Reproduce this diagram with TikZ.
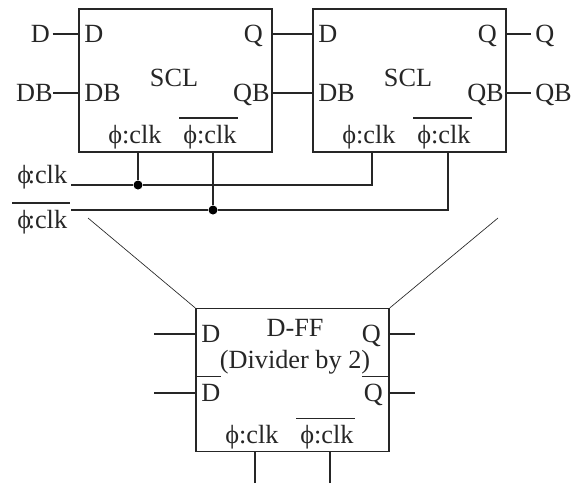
\documentclass[tikz,border=0pt]{standalone}
\usepackage{fontspec}
\setmainfont{Liberation Serif}
\newcommand{\barred}[3]{\makebox[0pt][l]{\hspace{#1}\raisebox{18.5pt}{\rule{#2}{0.9pt}}}#3}
\begin{document}
\begin{tikzpicture}[
        x=0.75pt,
        y=-0.75pt,
        block/.style={
            rectangle,
            draw=black!85,
            line width=1.1pt,
            minimum width=144.75pt,
            minimum height=107pt,
            inner sep=0pt
        },
        pin/.style={
            inner sep=0pt,
            text=black!85,
            font=\fontsize{19.7}{21}\selectfont,
            text height=13pt,
            text depth=0pt
        },
        wire/.style={
            line width=1.1pt,
            draw=black!85
        },
        guide/.style={
            line width=0.5pt,
            draw=black!85
        },
        junction/.style={
            circle,
            fill=black,
            inner sep=0pt,
            minimum size=6.75pt
        }
    ]
    \useasboundingbox (0,0) rectangle (577,483);

    % --- Part 1: Two SCL stages ---
    \node[block] (sclA) at (175.5,80.5) {};
    \node[block] (sclB) at (409.5,80.5) {};

    \node[pin] (sclAname) at (174,77.5) {SCL};
    \node[pin, anchor=west] (sclAd) at (84,34) {D};
    \node[pin, anchor=west] (sclAdb) at (84,93) {DB};
    \node[pin, anchor=east] (sclAq) at (263,34) {Q};
    \node[pin, anchor=east] (sclAqb) at (270,93) {QB};
    \node[pin, anchor=west] (sclAclk) at (108,134.5) {ϕ:clk};
    \node[pin, anchor=west] (sclAclkb) at (183,134.5) {\barred{-3pt}{44pt}{ϕ:clk}};

    \node[pin] (sclBname) at (408,77.5) {SCL};
    \node[pin, anchor=west] (sclBd) at (318,34) {D};
    \node[pin, anchor=west] (sclBdb) at (318,93) {DB};
    \node[pin, anchor=east] (sclBq) at (497,34) {Q};
    \node[pin, anchor=east] (sclBqb) at (504,93) {QB};
    \node[pin, anchor=west] (sclBclk) at (342,134.5) {ϕ:clk};
    \node[pin, anchor=west] (sclBclkb) at (417,134.5) {\barred{-3pt}{44pt}{ϕ:clk}};

    % Inputs and outputs
    \node[pin, anchor=east] (inD) at (50,34) {D};
    \node[pin, anchor=east] (inDB) at (53,93) {DB};
    \node[pin, anchor=west] (outQ) at (535,34) {Q};
    \node[pin, anchor=west] (outQB) at (535,93) {QB};
    \node[pin, anchor=west] (inClk) at (17,174.5) {ϕ\kern-2.5pt:clk};
    \node[pin, anchor=west] (inClkb) at (17,219.5) {\barred{-3.75pt}{43.5pt}{ϕ\kern-2.5pt:clk}};

    \draw[wire] ([xshift=2pt]inD.east) -- (inD.east -| sclA.west);
    \draw[wire] (inDB.east) -- (inDB.east -| sclA.west);
    \draw[wire] (sclAq.east -| sclA.east) -- (sclAq.east -| sclB.west);
    \draw[wire] (sclAqb.east -| sclA.east) -- (sclAqb.east -| sclB.west);
    \draw[wire] (sclBq.east -| sclB.east) -- ([xshift=-3pt]outQ.west);
    \draw[wire] (sclBqb.east -| sclB.east) -- ([xshift=-3pt]outQB.west);

    % Clock rails
    \coordinate (clkStart) at (71,185);
    \coordinate (clkbStart) at (71,210);
    \coordinate (tapB) at (372,152);
    \coordinate (tapBb) at (448,152);
    \node[junction] (dotA) at (138,185) {};
    \node[junction] (dotB) at (213,210) {};

    \draw[wire] (clkStart) -- (dotA) -| (tapB);
    \draw[wire] (clkbStart) -- (dotB) -| (tapBb);
    \draw[wire] (dotA) -- (dotA |- sclA.south);
    \draw[wire] (dotB) -- (dotB |- sclA.south);

    % --- Part 2: D-FF ---
    \node[block] (dff) at (292.5,380) {};

    \node[pin] (dffName) at (295,328) {D-FF};
    \node[pin] (dffNote) at (295,359.5) {(Divider by 2)};
    \node[pin, anchor=west] (dffD) at (201,334) {D};
    \node[pin, anchor=west] (dffDb) at (201,393) {\barred{-3.75pt}{18.75pt}{D}};
    \node[pin, anchor=east] (dffQ) at (381,334) {Q};
    \node[pin, anchor=east] (dffQb) at (383,393) {\barred{-1.5pt}{19.5pt}{Q}};
    \node[pin, anchor=west] (dffClk) at (225,435) {ϕ:clk};
    \node[pin, anchor=west] (dffClkb) at (300,435) {\barred{-3pt}{44pt}{ϕ:clk}};

    \coordinate (dffInA) at (154,334);
    \coordinate (dffInB) at (154,393);
    \coordinate (dffOutA) at (415,334);
    \coordinate (dffOutB) at (415,393);
    \coordinate (dffClkIn) at (255,483);
    \coordinate (dffClkbIn) at (330,483);

    \draw[wire] (dffInA) -- (dffInA -| dff.west);
    \draw[wire] (dffInB) -- (dffInB -| dff.west);
    \draw[wire] (dffOutA -| dff.east) -- (dffOutA);
    \draw[wire] (dffOutB -| dff.east) -- (dffOutB);
    \draw[wire] (dffClkIn) -- (dffClkIn |- dff.south);
    \draw[wire] (dffClkbIn) -- (dffClkbIn |- dff.south);

    % Zoom lines
    \coordinate (zoomL) at (88,218);
    \coordinate (zoomR) at (498,218);
    \draw[guide] (zoomL) -- (dff.north west);
    \draw[guide] (zoomR) -- (dff.north east);

\end{tikzpicture}
\end{document}
